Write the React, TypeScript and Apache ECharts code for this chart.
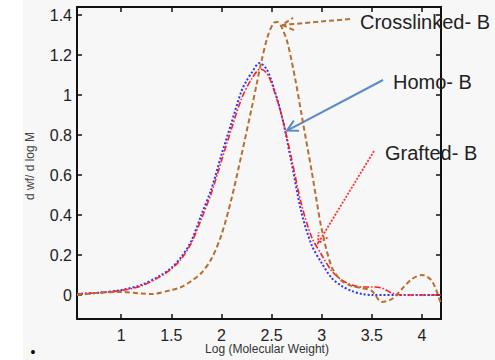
import React, { useEffect, useRef } from "react";
import * as echarts from "echarts";

const xTicks = [1, 1.5, 2, 2.5, 3, 3.5, 4];
const yTicks = [0, 0.2, 0.4, 0.6, 0.8, 1, 1.2, 1.4];

const homoX = [0.56, 0.8, 1.0, 1.2, 1.4, 1.5, 1.6, 1.7, 1.8, 1.9, 2.0, 2.1, 2.2, 2.25, 2.3, 2.38, 2.45, 2.5, 2.6, 2.7, 2.8, 2.9, 3.0, 3.1, 3.2, 3.3, 3.4, 3.5, 4.19];
const homoY = [0.005, 0.012, 0.025, 0.05, 0.1, 0.135, 0.19, 0.27, 0.4, 0.53, 0.7, 0.86, 1.02, 1.07, 1.11, 1.16, 1.13, 1.07, 0.9, 0.66, 0.41, 0.25, 0.16, 0.085, 0.045, 0.02, 0.005, 0, 0];

const graftX = [0.56, 0.8, 1.0, 1.2, 1.4, 1.5, 1.6, 1.7, 1.8, 1.9, 2.0, 2.1, 2.2, 2.3, 2.39, 2.45, 2.5, 2.6, 2.7, 2.8, 2.9, 3.0, 3.1, 3.2, 3.3, 3.4, 3.5, 3.6, 3.7, 3.8, 4.19];
const graftY = [0.005, 0.012, 0.022, 0.045, 0.095, 0.13, 0.18, 0.26, 0.38, 0.51, 0.67, 0.83, 0.98, 1.08, 1.13, 1.11, 1.06, 0.9, 0.68, 0.45, 0.29, 0.2, 0.12, 0.075, 0.05, 0.04, 0.04, 0.035, 0.01, 0, 0];

const crossX = [0.56, 0.8, 1.0, 1.2, 1.3, 1.5, 1.6, 1.7, 1.8, 1.9, 2.0, 2.1, 2.2, 2.3, 2.35, 2.4, 2.46, 2.52, 2.56, 2.6, 2.66, 2.74, 2.8, 2.9, 2.95, 3.0, 3.1, 3.2, 3.3, 3.4, 3.5, 3.6, 3.7, 3.8, 3.9, 4.0, 4.1, 4.19];
const crossY = [0.0, 0.012, 0.015, 0.008, 0.005, 0.025, 0.04, 0.07, 0.11, 0.18, 0.3, 0.48, 0.7, 0.93, 1.05, 1.17, 1.29, 1.36, 1.365, 1.34, 1.26, 1.07, 0.9, 0.62, 0.47, 0.33, 0.14, 0.07, 0.045, 0.035, 0.02, -0.035, -0.02, 0.03, 0.08, 0.1, 0.07, -0.045];

const labels = ["Crosslinked- B", "Homo- B", "Grafted- B"];

const pairs = (xs: number[], ys: number[]) => xs.map((x, i) => [x, ys[i]]);

export default function App() {
  const ref = useRef<HTMLDivElement>(null);
  useEffect(() => {
    if (!ref.current) return;
    const chart = echarts.init(ref.current, undefined, { renderer: "svg" });
    const font = "'Liberation Sans', Arial, sans-serif";
    const axisCommon = {
      type: "value" as const,
      axisLine: { show: true, onZero: false, lineStyle: { color: "#111", width: 2 } },
      splitLine: { show: false },
    };
    chart.setOption({
      animation: false,
      backgroundColor: "transparent",
      grid: { left: 77, top: 7, right: 54, bottom: 41 },
      xAxis: [
        {
          ...axisCommon,
          min: 0.56,
          max: 4.19,
          axisTick: { inside: true, length: 5, customValues: xTicks, lineStyle: { color: "#111", width: 1.5 } },
          axisLabel: { customValues: xTicks, color: "#222", fontSize: 16, fontFamily: font, margin: 8 },
        },
        {
          ...axisCommon,
          position: "top",
          min: 0.56,
          max: 4.19,
          axisTick: { inside: true, length: 5, customValues: xTicks, lineStyle: { color: "#111", width: 1.5 } },
          axisLabel: { show: false },
        },
      ],
      yAxis: [
        {
          ...axisCommon,
          min: -0.12,
          max: 1.44,
          axisTick: { inside: true, length: 5, customValues: yTicks, lineStyle: { color: "#111", width: 1.5 } },
          axisLabel: { customValues: yTicks, color: "#222", fontSize: 16, fontFamily: font, margin: 5 },
        },
        {
          ...axisCommon,
          position: "right",
          min: -0.12,
          max: 1.44,
          axisTick: { inside: true, length: 5, customValues: yTicks, lineStyle: { color: "#111", width: 1.5 } },
          axisLabel: { show: false },
        },
      ],
      series: [
        {
          name: "Homo- B",
          type: "line",
          data: pairs(homoX, homoY),
          smooth: 0.3,
          symbol: "none",
          lineStyle: { color: "#3030ff", width: 2, type: "dotted" },
          z: 2,
        },
        {
          name: "Grafted- B",
          type: "line",
          data: pairs(graftX, graftY),
          smooth: 0.3,
          symbol: "none",
          lineStyle: { color: "#ff1e1e", width: 1.6, type: [6, 2, 1.5, 2] },
          z: 3,
        },
        {
          name: "Crosslinked- B",
          type: "line",
          data: pairs(crossX, crossY),
          smooth: 0.3,
          symbol: "none",
          lineStyle: { color: "#b86e2e", width: 2, type: [5, 3] },
          z: 4,
        },
      ],
    });

    const tipOf = (p: number[]) => chart.convertToPixel({ gridIndex: 0 }, p) as number[];
    const arrow = (tail: number[], tip: number[], style: any, len: number) => {
      const dx = tip[0] - tail[0];
      const dy = tip[1] - tail[1];
      const d = Math.hypot(dx, dy);
      const ux = dx / d;
      const uy = dy / d;
      const a = (28 * Math.PI) / 180;
      const w = (s: number) => {
        const c = Math.cos(s * a);
        const sn = Math.sin(s * a);
        const rx = ux * c - uy * sn;
        const ry = ux * sn + uy * c;
        return [tip[0] - len * rx, tip[1] - len * ry];
      };
      return [
        { type: "line", shape: { x1: tail[0], y1: tail[1], x2: tip[0], y2: tip[1] }, style },
        { type: "polyline", shape: { points: [w(1), tip, w(-1)] }, style: { ...style, fill: null } },
      ];
    };
    const brownTip = tipOf([2.605, 1.35]);
    const blueTip = tipOf([2.655, 0.822]);
    const redTip = tipOf([2.964, 0.259]);
    const brownStyle = { stroke: "#b86e2e", lineWidth: 2, lineDash: [5, 3] };
    const blueStyle = { stroke: "#5b8ac6", lineWidth: 2 };
    const redStyle = { stroke: "#ff3030", lineWidth: 1.8, lineDash: [2, 1.5] };
    const textStyle = (t: string) => ({ text: t, fill: "#222", fontSize: 20, fontFamily: font, textVerticalAlign: "middle" });

    chart.setOption({
      graphic: [
        { type: "rect", z: -10, silent: true, shape: { x: 23, y: 0, width: 472, height: 360 }, style: { fill: "#f7f7f7" } },
        ...arrow([350, 19], brownTip, brownStyle, 13),
        ...arrow([383, 80], blueTip, blueStyle, 12),
        ...arrow([374, 151], redTip, redStyle, 11),
        { type: "text", x: 360, y: 22, style: textStyle(labels[0]), z: 10 },
        { type: "text", x: 393, y: 82, style: textStyle(labels[1]), z: 10 },
        { type: "text", x: 385, y: 153, style: textStyle(labels[2]), z: 10 },
        {
          type: "text",
          x: 30,
          y: 166,
          rotation: Math.PI / 2,
          style: { text: "d wf/ d log M", fill: "#444", fontSize: 12, fontFamily: font, textAlign: "center", textVerticalAlign: "middle" },
        },
        {
          type: "text",
          x: 267,
          y: 349,
          style: { text: "Log (Molecular Weight)", fill: "#333", fontSize: 12, fontFamily: font, textAlign: "center", textVerticalAlign: "middle" },
        },
        {
          type: "text",
          x: 33,
          y: 352,
          style: { text: "•", fill: "#000", fontSize: 14, fontFamily: font, textAlign: "center", textVerticalAlign: "middle" },
        },
      ],
    });
    return () => chart.dispose();
  }, []);
  return <div ref={ref} style={{ position: "absolute", left: 0, top: 0, width: 495, height: 360 }} />;
}
